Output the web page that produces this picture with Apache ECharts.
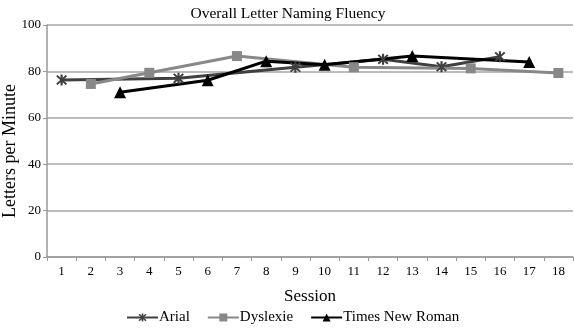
<!DOCTYPE html>
<html>
<head>
<meta charset="utf-8">
<script src="https://cdn.jsdelivr.net/npm/echarts@6/dist/echarts.min.js"></script>
<style>
  html, body { margin: 0; padding: 0; background: #fff; }
  #chart { width: 574px; height: 332px; }
</style>
</head>
<body>
<div id="chart"></div>
<script>
// 数据
var sessions = ['1','2','3','4','5','6','7','8','9','10','11','12','13','14','15','16','17','18'];
var arial    = [76.3, null, null, null, 77, null, null, null, 81.8, null, null, 85.2, null, 82, null, 86.3, null, null];
var dyslexie = [null, 74.6, null, 79.4, null, null, 86.6, null, null, null, 81.8, null, null, null, 81.3, null, null, 79.3];
var times    = [null, null, 71, null, null, 76.2, null, 84.4, null, 82.9, null, null, 86.6, null, null, null, 84, null];
var yTicks   = [0, 20, 40, 60, 80, 100];

var serif = 'Liberation Serif';
// 星号
var asterisk = 'path://M-0.9,-5L0.9,-5L0.9,5L-0.9,5Z' +
    'M-4.6,-3.4L-3.4,-4.6L4.6,3.4L3.4,4.6Z' +
    'M3.4,-4.6L4.6,-3.4L-3.4,4.6L-4.6,3.4Z';

var chart = echarts.init(document.getElementById('chart'));

function makeSeries(name, data, color, symbol, size) {
    return {
        name: name,
        type: 'line',
        data: data,
        connectNulls: true,
        symbol: symbol,
        symbolSize: size,
        showAllSymbol: true,
        lineStyle: { color: color, width: 3 },
        itemStyle: { color: color },
        emphasis: { disabled: true },
        animation: false
    };
}

chart.setOption({
    textStyle: { fontFamily: serif },
    title: {
        text: 'Overall Letter Naming Fluency',
        left: 283, textAlign: 'center', top: 1,
        textStyle: { fontFamily: serif, fontSize: 15.5, fontWeight: 'normal', color: '#000' }
    },
    // 纵轴标题
    graphic: [{
        type: 'text',
        x: 10, y: 151,
        rotation: Math.PI / 2,
        style: {
            text: 'Letters per Minute',
            font: '18px "Liberation Serif"',
            fill: '#000',
            align: 'center',
            verticalAlign: 'middle'
        }
    }],
    legend: {
        bottom: 2,
        left: 121,
        itemWidth: 31,
        itemHeight: 10,
        itemGap: 17,
        textStyle: { fontFamily: serif, fontSize: 15, color: '#000', padding: [0, 0, 0, -4] },
        data: ['Arial', 'Dyslexie', 'Times New Roman']
    },
    grid: { left: 47, right: 1, top: 25, bottom: 75, outerBoundsMode: 'none', containLabel: false },
    xAxis: {
        type: 'category',
        data: sessions,
        boundaryGap: true,
        name: 'Session',
        nameLocation: 'middle',
        nameGap: 31,
        nameTextStyle: { fontFamily: serif, fontSize: 17, color: '#000' },
        axisLine: { lineStyle: { color: '#999', width: 1.5 } },
        axisTick: { show: true, alignWithLabel: false, length: 4, lineStyle: { color: '#999' } },
        axisLabel: { fontFamily: serif, fontSize: 13, color: '#000', margin: 8 }
    },
    yAxis: {
        type: 'value',
        min: yTicks[0],
        max: yTicks[yTicks.length - 1],
        interval: 20,
        axisLine: { show: true, lineStyle: { color: '#999', width: 1.5 } },
        axisTick: { show: true, length: 4, lineStyle: { color: '#999' } },
        axisLabel: { fontFamily: serif, fontSize: 13, color: '#000', margin: 6 },
        splitLine: { lineStyle: { color: '#a6a6a6', width: 1.5 } }
    },
    series: [
        makeSeries('Arial', arial, '#404040', asterisk, 11),
        makeSeries('Dyslexie', dyslexie, '#888888', 'rect', 10),
        makeSeries('Times New Roman', times, '#000000', 'triangle', 12)
    ]
});

window.addEventListener('resize', function () {
    chart.resize();
});
</script>
</body>
</html>
